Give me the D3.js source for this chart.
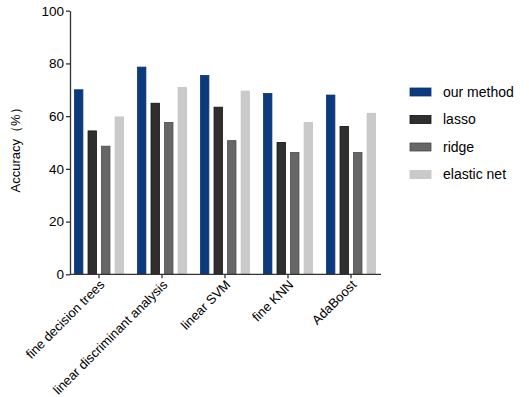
<!DOCTYPE html>
<html>
<head>
<meta charset="utf-8">
<script src="https://cdn.jsdelivr.net/npm/d3@7"></script>
<style>
  body { margin: 0; background: #fff; }
  svg { font-family: "Liberation Sans", Arial, sans-serif; }
</style>
</head>
<body>
<svg id="chart" width="529" height="397"></svg>
<script>
// data
const categories = ["fine decision trees", "linear discriminant analysis", "linear SVM", "fine KNN", "AdaBoost"];
const series = ["our method", "lasso", "ridge", "elastic net"];
const ourMethod = [70.0, 78.6, 75.4, 68.6, 68.0];
const lasso = [54.4, 64.9, 63.4, 50.0, 56.1];
const ridge = [48.6, 57.6, 50.7, 46.2, 46.2];
const elasticNet = [59.7, 70.9, 69.5, 57.6, 61.1];
const yTicks = [0, 20, 40, 60, 80, 100];
const colors = ["#0b3a7e", "#2f2f2f", "#676767", "#cacaca"];
const strokes = ["#0a3370", "#111111", "#4a4a4a", "#c4c4c4"];

const values = [ourMethod, lasso, ridge, elasticNet];
const rows = categories.map((c, i) => ({
  cat: c,
  vals: series.map((s, j) => ({ key: s, idx: j, v: values[j][i] }))
}));

const svg = d3.select("#chart");
const axisY = 274.3, topY = 10.7, leftX = 70, rightX = 381;

const x0 = d3.scaleBand().domain(categories).range([67.5, 382.5]).padding(0);
const x1 = d3.scaleBand().domain(series).range([7, 56]).paddingInner(0.38);
const y = d3.scaleLinear().domain([0, 100]).range([axisY, topY]);

// bars
const g = svg.append("g");
g.selectAll("g.grp")
  .data(rows)
  .enter().append("g")
  .attr("class", "grp")
  .attr("transform", d => "translate(" + x0(d.cat) + ",0)")
  .selectAll("rect")
  .data(d => d.vals)
  .enter().append("rect")
  .attr("x", d => x1(d.key))
  .attr("width", x1.bandwidth())
  .attr("y", d => y(d.v))
  .attr("height", d => y(0) - y(d.v))
  .attr("fill", d => colors[d.idx])
  .attr("stroke", d => strokes[d.idx])
  .attr("stroke-width", 0.8);

// y axis
const yAxis = svg.append("g")
  .attr("transform", "translate(" + leftX + ",0)")
  .call(d3.axisLeft(y).tickValues(yTicks).tickSize(4).tickSizeOuter(0).tickPadding(2));
yAxis.selectAll("text").attr("font-size", 13.5).attr("fill", "#000");

// x axis
const xAxis = svg.append("g")
  .attr("transform", "translate(0," + axisY + ")")
  .call(d3.axisBottom(x0).tickSize(4).tickSizeOuter(0));
xAxis.select(".domain").attr("d", "M" + leftX + ",0H" + rightX);
xAxis.selectAll("text")
  .attr("font-size", 13)
  .attr("fill", "#000")
  .attr("text-anchor", "end")
  .attr("dy", "0.35em")
  .attr("transform", "translate(3,8) rotate(-45)")
  .attr("x", 0)
  .attr("y", 0);

svg.selectAll(".domain, .tick line").attr("stroke", "#333").attr("stroke-width", 1.3);

// y title
svg.append("text")
  .attr("transform", "translate(20," + 147 + ") rotate(-90)")
  .attr("text-anchor", "middle")
  .attr("font-size", 13)
  .attr("fill", "#000")
  .text("Accuracy（%）");

// legend
const legend = svg.append("g");
const li = legend.selectAll("g")
  .data(series)
  .enter().append("g")
  .attr("transform", (d, i) => "translate(410," + (92 + i * 27.5) + ")");
li.append("rect")
  .attr("x", 0).attr("y", -4)
  .attr("width", 21).attr("height", 8)
  .attr("fill", (d, i) => colors[i])
  .attr("stroke", (d, i) => strokes[i])
  .attr("stroke-width", 0.8);
li.append("text")
  .attr("x", 33).attr("y", 0)
  .attr("dy", "0.35em")
  .attr("font-size", 14)
  .attr("fill", "#000")
  .text(d => d);
</script>
</body>
</html>
